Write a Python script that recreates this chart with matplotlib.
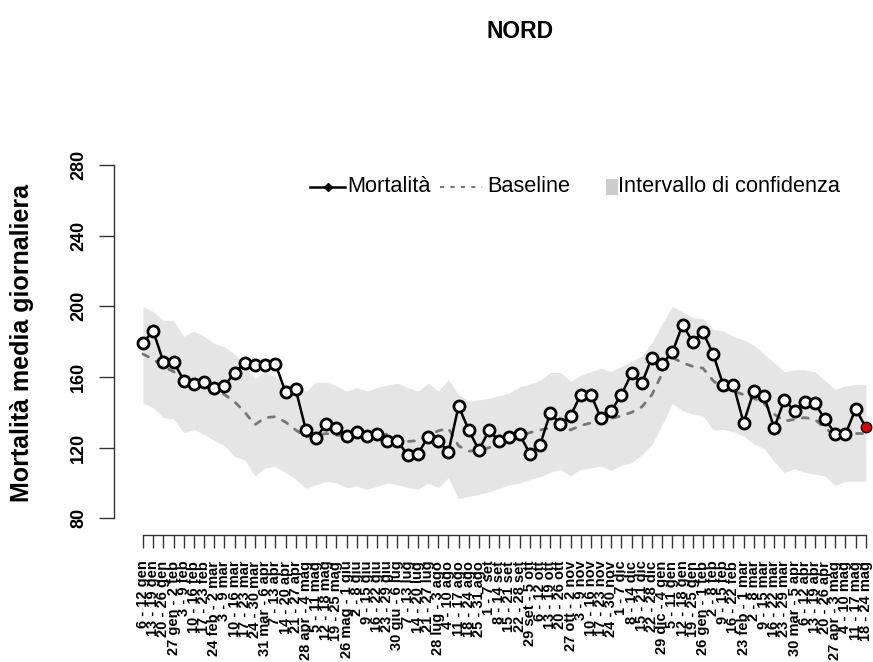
import matplotlib
matplotlib.use("Agg")
import matplotlib.pyplot as plt
from matplotlib.lines import Line2D
from matplotlib.patches import Rectangle
import numpy as np

plt.rcParams['font.family'] = ['Liberation Sans', 'DejaVu Sans']

week_labels = [
    "6 - 12 gen", "13 - 19 gen", "20 - 26 gen", "27 gen - 2 feb", "3 - 9 feb", "10 - 16 feb",
    "17 - 23 feb", "24 feb - 2 mar", "3 - 9 mar", "10 - 16 mar", "17 - 23 mar", "24 - 30 mar",
    "31 mar - 6 apr", "7 - 13 apr", "14 - 20 apr", "21 - 27 apr", "28 apr - 4 mag", "5 - 11 mag",
    "12 - 18 mag", "19 - 25 mag", "26 mag - 1 giu", "2 - 8 giu", "9 - 15 giu", "16 - 22 giu",
    "23 - 29 giu", "30 giu - 6 lug", "7 - 13 lug", "14 - 20 lug", "21 - 27 lug", "28 lug - 3 ago",
    "4 - 10 ago", "11 - 17 ago", "18 - 24 ago", "25 - 31 ago", "1 - 7 set", "8 - 14 set",
    "15 - 21 set", "22 - 28 set", "29 set - 5 ott", "6 - 12 ott", "13 - 19 ott", "20 - 26 ott",
    "27 ott - 2 nov", "3 - 9 nov", "10 - 16 nov", "17 - 23 nov", "24 - 30 nov", "1 - 7 dic",
    "8 - 14 dic", "15 - 21 dic", "22 - 28 dic", "29 dic - 4 gen", "5 - 11 gen", "12 - 18 gen",
    "19 - 25 gen", "26 gen - 1 feb", "2 - 8 feb", "9 - 15 feb", "16 - 22 feb", "23 feb - 1 mar",
    "2 - 8 mar", "9 - 15 mar", "16 - 22 mar", "23 - 29 mar", "30 mar - 5 apr", "6 - 12 apr",
    "13 - 19 apr", "20 - 26 apr", "27 apr - 3 mag", "4 - 10 mag", "11 - 17 mag", "18 - 24 mag",
]

mortalita = [
    179.5, 186, 168.7, 168.7, 158, 156, 157, 154, 155, 162.5, 168, 167,
    166.5, 167.5, 151.5, 153, 130, 125.5, 133.5, 131, 126.5, 129, 126.5, 127.5,
    124, 123.5, 116, 116.5, 126, 124, 117.5, 143.5, 130, 118.5, 130, 123.5,
    126, 127.5, 116.5, 121.5, 139.5, 133.5, 138, 150, 150, 136.5, 141, 150,
    162, 156.5, 171, 167.5, 174, 189.5, 180, 185.5, 173, 155.5, 155.5, 134,
    152, 149.5, 131, 147, 141, 146, 145, 136, 128, 127.5, 142, 131.5,
]

baseline = [
    173, 170, 166, 163, 160, 158, 155, 153, 150, 146, 140, 133,
    137, 137.5, 134.5, 130, 126, 127, 128, 127, 127, 127, 126, 125,
    128, 125, 123.5, 124, 127, 129.5, 131, 121, 118, 118.5, 120, 122,
    124, 126.5, 128.5, 130, 131, 132, 130, 132.5, 134, 135.5, 136.5, 138,
    140, 143, 150, 162, 171, 168, 166, 165, 158, 153, 152, 150,
    148, 145, 139, 135, 136, 137, 136, 131, 127, 128, 128, 128,
]

ci_upper = [
    200, 197, 192, 192, 183, 186, 183, 179, 177, 173, 167, 159,
    163, 160, 156, 155, 152, 157, 157, 155, 152, 154, 152, 154,
    155.5, 156.5, 154, 152, 156.5, 152, 158.5, 150, 146.5, 147, 148, 149.5,
    151, 154.5, 156, 158, 162.5, 162.5, 157.6, 161, 163, 165, 163, 166,
    169, 172, 179.6, 190, 200, 197, 193.5, 193, 187, 186, 183, 181,
    178, 173, 168, 163, 164, 164, 163, 158, 153, 155, 155.7, 155.7,
]

ci_lower = [
    145.4, 142.5, 137, 136.3, 128.4, 130.3, 127.5, 124, 121, 115, 113, 104,
    108.6, 109.2, 106, 102, 97, 99, 101, 100, 97.3, 98.2, 96.4, 98.2,
    100, 99, 97.5, 96.4, 100, 97.3, 103, 91, 92.5, 93.5, 95, 97,
    99, 100, 102, 103.5, 106, 107.7, 104, 107.7, 108.5, 109.5, 107, 110,
    111.5, 116, 122, 133, 145, 141, 139, 138, 130, 130.3, 129, 126.5,
    122, 119.5, 112, 106, 108, 106, 105, 103.9, 98.5, 101, 101, 101,
]

y_ticks = [80, 120, 160, 200, 240, 280]

W, H = 873, 662
fig = plt.figure(figsize=(W / 100, H / 100), dpi=100)

# axes geometry in pixels
ax_left, ax_right, ax_top, ax_bottom = 114, 873, 151, 535
ax = fig.add_axes([ax_left / W, 1 - ax_bottom / H, (ax_right - ax_left) / W, (ax_bottom - ax_top) / H])

x = np.arange(1, len(mortalita) + 1)
px_per_unit = 10.18
ax.set_xlim(1 - (143 - ax_left) / px_per_unit, 1 + (ax_right - 143) / px_per_unit)
py_per_unit = (518.3 - 165) / 200.0
ax.set_ylim(80 - (ax_bottom - 518.3) / py_per_unit, 280 + (165 - ax_top) / py_per_unit)

band_color = "#E5E5E5"
ax.fill_between(x, ci_lower, ci_upper, color=band_color, linewidth=0, zorder=1)
ax.plot(x, baseline, color="#777777", linewidth=2.0, linestyle=(0, (2.2, 3.2)), zorder=2,
        dash_capstyle="round")
ax.plot(x, mortalita, color="black", linewidth=1.8, zorder=3)
ax.plot(x[:-1], mortalita[:-1], linestyle="none", marker="o", markersize=8.0,
        markerfacecolor="white", markeredgecolor="black", markeredgewidth=2.0, zorder=4, clip_on=False)
ax.plot(x[-1:], mortalita[-1:], linestyle="none", marker="o", markersize=7.5,
        markerfacecolor="#E00000", markeredgecolor="black", markeredgewidth=1.0, zorder=5, clip_on=False)

for s in ["top", "right"]:
    ax.spines[s].set_visible(False)
ax.spines["left"].set_bounds(80, 280)
ax.spines["bottom"].set_bounds(1, len(mortalita))
ax.spines["left"].set_color("#333333")
ax.spines["bottom"].set_color("#333333")
ax.spines["left"].set_linewidth(1.0)
ax.spines["bottom"].set_linewidth(1.0)

ax.set_yticks(y_ticks)
ax.set_yticklabels([str(v) for v in y_ticks], rotation=90, va="center", fontsize=13, fontweight="bold")
ax.tick_params(axis="y", length=10.5, width=1.0, color="#333333", pad=9)

ax.set_xticks(x)
ax.set_xticklabels(week_labels, rotation=90, ha="center", va="top", fontsize=10.5, fontweight="bold")
ax.tick_params(axis="x", length=9.5, width=1.0, color="#333333", pad=9)

fig.text(22 / W, 1 - 343 / H, "Mortalità media giornaliera", rotation=90, ha="center", va="center",
         fontsize=18, fontweight="bold")

fig.text(520 / W, 1 - 31 / H, "NORD", ha="center", va="center", fontsize=16.5, fontweight="bold")

# legend (manual, horizontal)
ly = 1 - 187 / H
fig.add_artist(Line2D([310 / W, 345 / W], [ly, ly], color="black", linewidth=1.8,
                      transform=fig.transFigure))
fig.add_artist(Line2D([327.5 / W], [ly], color="black", marker="D", markersize=4,
                      transform=fig.transFigure))
fig.text(347 / W, ly, "Mortalità", ha="left", va="center", fontsize=15.7)
fig.add_artist(Line2D([440 / W, 482 / W], [ly, ly], color="#777777", linewidth=1.5,
                      linestyle=(0, (2, 3)), transform=fig.transFigure))
fig.text(487 / W, ly, "Baseline", ha="left", va="center", fontsize=15.7)
fig.add_artist(Rectangle((606 / W, ly - 8 / H), 12 / W, 16 / H, facecolor="#CCCCCC",
                         edgecolor="none", transform=fig.transFigure))
fig.text(618 / W, ly, "Intervallo di confidenza", ha="left", va="center", fontsize=15.7)

fig.savefig("out.png", dpi=100)
